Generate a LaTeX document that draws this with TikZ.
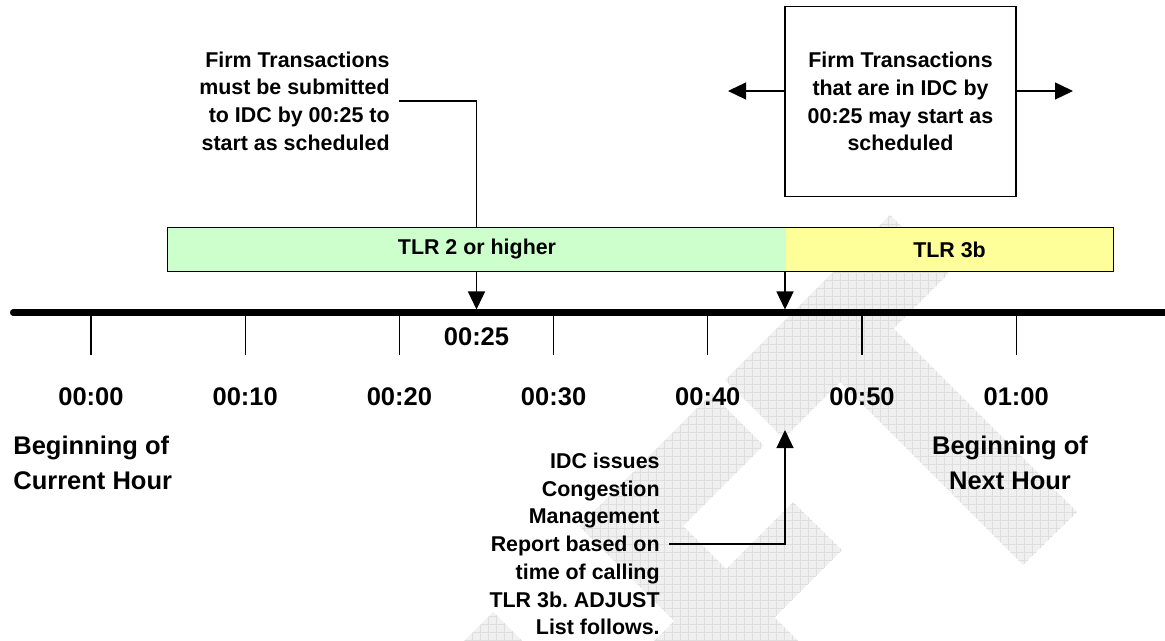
\documentclass[tikz,border=0pt]{standalone}
\usepackage{fontspec}
\setmainfont{Liberation Sans}
\usetikzlibrary{arrows.meta}
\frenchspacing

\definecolor{tlrgreen}{HTML}{CCFFCC}
\definecolor{tlryellow}{HTML}{FFFF99}
\newcommand{\tlnotefont}{\fontsize{10.7}{13.85}\selectfont\bfseries}
\newcommand{\tltimefont}{\fontsize{12.75}{17.35}\selectfont\bfseries}

\begin{document}
\begin{tikzpicture}[x=0.5pt, y=-0.5pt,
    note/.style={font=\tlnotefont, inner sep=4.5pt},
    timelabel/.style={font=\tltimefont},
    hourlabel/.style={font=\tltimefont, inner sep=0pt},
    bar/.style={font=\tlnotefont, minimum height=21.5pt, inner sep=0pt},
    leader/.style={line width=0.6pt},
    arrow/.style={line width=0.6pt, -{Triangle[width=8.5pt,length=9pt]}},
    tick/.style={line width=0.65pt}]
    \useasboundingbox (0,0) rectangle (1165,641);

    % Watermark - grey bands behind everything
    \begin{scope}
        \clip (890,215) -- (948.5,273.5) -- (783.5,438.5) -- (725,380) -- cycle
              (893.5,328.5) -- (1077,512) -- (1023,565) -- (840,382) -- cycle
              (711.5,393.5) -- (763.5,445.5) -- (683,526) -- (857,700) -- (753,700) -- (579,526) -- cycle
              (793,502) -- (842,550) -- (692,700) -- (595,700) -- cycle
              (493,612) -- (545,664) -- (509,700) -- (405,700) -- cycle;
        \fill[gray!12] (380,641) rectangle (1165,200);
        \draw[gray!26, line width=0.25pt, step=4pt] (380,641) grid (1165,200);
    \end{scope}

    % TLR bars
    \node[bar, fill=tlrgreen, minimum width=309pt] (tlrtwo) at (477,249.5) {TLR 2 or higher};
    \node[bar, fill=tlryellow, minimum width=163.5pt] (tlrthree) at (949.5,249.5) {TLR 3b};
    \draw[line width=0.6pt] (tlrtwo.north west) rectangle (tlrthree.south east);

    % Time line with ticks and labels
    \coordinate (tlstart) at (13,312.5);
    \coordinate (tlend) at (1165,312.5);
    \draw[line width=3pt, line cap=round] (tlstart) -- (tlend);
    \foreach \i/\t in {0/00:00, 1/00:10, 2/00:20, 3/00:30, 4/00:40, 5/00:50, 6/01:00} {
        \draw[tick] (91+154.2*\i,314) -- ++(0,41);
        \node[timelabel] (time\i) at (91+154.2*\i,397) {\t};
    }
    \coordinate (mark25) at (476.5,309.5);
    \coordinate (mark45) at (785,309.5);
    \node[timelabel] (time25) at (476.5,337) {00:25};

    % Submission deadline note
    \node[note, align=right, anchor=east] (submitnote) at (399,101) {Firm Transactions\\must be submitted\\to IDC by 00:25 to\\start as scheduled};
    \draw[leader] (submitnote.east) -| (tlrtwo.north -| mark25);
    \draw[arrow] (tlrtwo.south -| mark25) -- (mark25);

    % Box with arrows both ways
    \node[note, draw, line width=0.7pt, align=center, minimum width=115.5pt, minimum height=95pt] (startbox) at (900.5,101.7) {Firm Transactions\\that are in IDC by\\00:25 may start as\\scheduled};
    \coordinate (leftend) at (728,91);
    \coordinate (rightend) at (1073,91);
    \draw[arrow] (startbox.west |- leftend) -- (leftend);
    \draw[arrow] (startbox.east |- rightend) -- (rightend);

    % TLR 3b call
    \draw[arrow] (mark45 |- tlrtwo.south) -- (mark45);
    \node[note, align=right, anchor=east] (idcnote) at (669,544) {IDC issues\\Congestion\\Management\\Report based on\\time of calling\\TLR 3b. ADJUST\\List follows.};
    \coordinate (idctip) at (785,430);
    \draw[arrow] (idcnote.east) -| (idctip);

    % Hour labels
    \node[hourlabel, align=left, anchor=north west] (curhour) at (13,436) {Beginning of\\Current Hour};
    \node[hourlabel, align=center, anchor=north] (nexthour) at (1010,436) {Beginning of\\Next Hour};
\end{tikzpicture}
\end{document}
